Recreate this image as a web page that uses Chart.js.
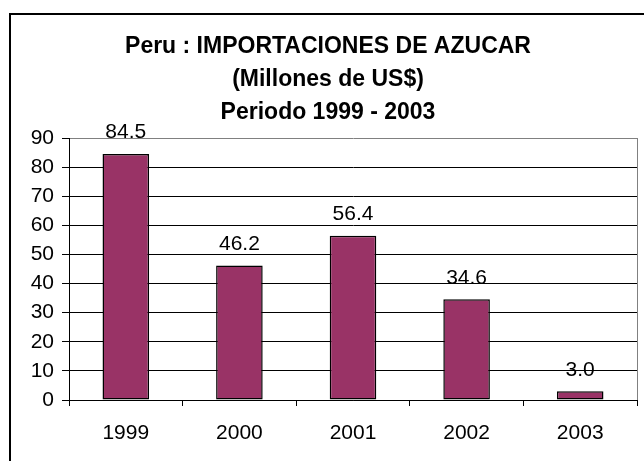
<!DOCTYPE html>
<html>
<head>
<meta charset="utf-8">
<script src="https://cdn.jsdelivr.net/npm/chart.js@4"></script>
<style>
  html, body { margin: 0; padding: 0; background: #fff; }
  #wrap { width: 644px; height: 461px; }
</style>
</head>
<body>
<div id="wrap"><canvas id="myChart" width="644" height="461"></canvas></div>
<script>
const years = ['1999', '2000', '2001', '2002', '2003']
const imports = [84.5, 46.2, 56.4, 34.6, 3.0]
const titleLines = ['Peru : IMPORTACIONES DE AZUCAR', '(Millones de US$)', 'Periodo 1999 - 2003']

const fontFam = '"Liberation Sans", Arial, sans-serif'

// frame, right border of plot area and value labels
const extras = {
    id: 'extras',
    afterDraw(chart) {
        const ctx = chart.ctx
        const area = chart.chartArea
        ctx.save()
        ctx.strokeStyle = '#000'
        ctx.lineWidth = 2
        ctx.strokeRect(10, 14, 640, 460)
        ctx.strokeStyle = '#808080'
        ctx.lineWidth = 1
        ctx.beginPath()
        ctx.moveTo(Math.round(area.right) + 0.5, area.top)
        ctx.lineTo(Math.round(area.right) + 0.5, area.bottom)
        ctx.stroke()
        ctx.fillStyle = '#000'
        ctx.font = '21px ' + fontFam
        ctx.textAlign = 'center'
        ctx.textBaseline = 'bottom'
        chart.getDatasetMeta(0).data.forEach((bar, i) => {
            ctx.fillText(imports[i].toFixed(1), bar.x, bar.y - 11)
        })
        ctx.restore()
    }
}

const config = {
    type: 'bar',
    data: {
        labels: years,
        datasets: [
            {
                label: 'Importaciones',
                data: imports,
                backgroundColor: '#993366',
                borderColor: '#000',
                borderWidth: 1.5,
                borderSkipped: false,
                barPercentage: 0.41,
                categoryPercentage: 1
            }
        ]
    },
    options: {
        responsive: false,
        animation: false,
        layout: { padding: { left: 19, right: 7, top: 0, bottom: 0 } },
        plugins: {
            legend: { display: false },
            tooltip: { enabled: false },
            title: {
                display: true,
                text: titleLines,
                color: '#000',
                font: { family: fontFam, size: 23, weight: 'bold', lineHeight: 1.435 },
                padding: { top: 30, bottom: 9 }
            }
        },
        scales: {
            x: {
                offset: true,
                border: { color: '#000', width: 1 },
                grid: { offset: true, drawOnChartArea: false, drawTicks: true, tickLength: 6, tickColor: '#000' },
                ticks: { color: '#000', padding: 15, font: { family: fontFam, size: 21 } },
                afterFit(scale) { scale.height = 61 }
            },
            y: {
                min: 0,
                max: 90,
                border: { color: '#000', width: 1 },
                grid: {
                    color: ctx => ctx.tick && ctx.tick.value === 90 ? '#808080' : '#000',
                    tickColor: '#000',
                    tickLength: 7
                },
                ticks: { stepSize: 10, color: '#000', padding: 8, font: { family: fontFam, size: 21 } },
                afterFit(scale) { scale.width = 50 }
            }
        }
    },
    plugins: [extras]
}
var myChart = new Chart(document.getElementById('myChart'), config)
</script>
</body>
</html>
